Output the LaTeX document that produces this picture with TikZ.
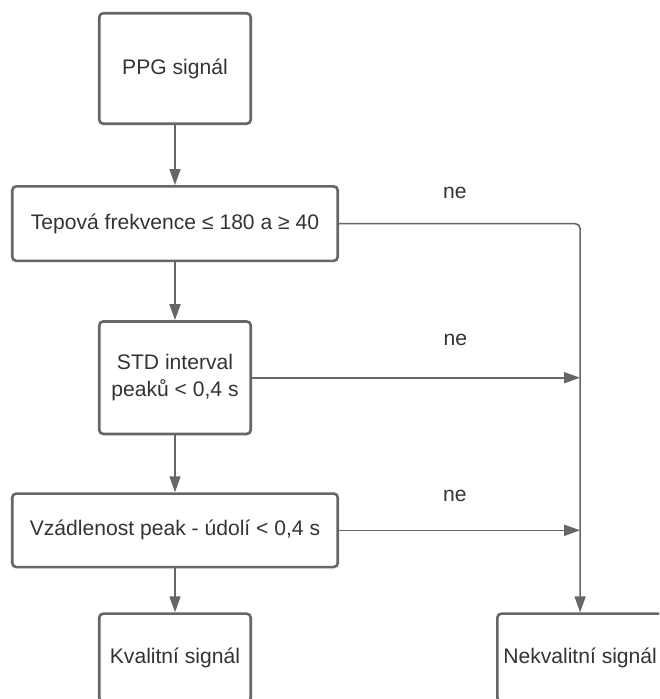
\documentclass[tikz,border=0pt]{standalone}
\usepackage{fontspec}
\setmainfont{Liberation Sans}
\usetikzlibrary{arrows.meta,positioning}
\definecolor{FlowLine}{HTML}{666666}
\definecolor{FlowText}{HTML}{333333}
\tikzset{
  flowbox/.style={draw=FlowLine, rounded corners=4pt, line width=2.6pt,
                  align=center, text=FlowText,
                  font=\fontsize{21.1}{27.5}\selectfont},
  widebox/.style={flowbox, minimum width=325.5pt, minimum height=74.5pt},
  tallbox/.style={flowbox, minimum width=151.5pt, minimum height=110.5pt},
  endbox/.style={flowbox, minimum height=88pt},
  arrow/.style={-{Triangle[length=16pt,width=11pt]}, line width=1.6pt, FlowLine},
  note/.style={text=FlowText, font=\fontsize{21.1}{27.5}\selectfont},
}

\begin{document}
\begin{tikzpicture}[x=1pt, y=1pt, node distance=60pt]
  \clip (0,0) rectangle (659,-699);

  \node[tallbox] (ppg) at (175,-68.5) {PPG signál};
  \node[widebox, below=60pt of ppg] (rate) {Tepová frekvence ≤ 180 a ≥ 40};
  \node[tallbox, minimum height=112.5pt, below=58pt of rate] (std) {STD interval\\peaků < 0,4 s};
  \node[widebox, minimum height=73.5pt, below=57pt of std] (dist) {Vzádlenost peak - údolí < 0,4 s};
  \node[endbox, minimum width=151.5pt, below=44pt of dist] (good) {Kvalitní signál};
  \node[endbox, minimum width=165.5pt, right=244pt of good] (bad) {Nekvalitní signál};

  \draw[arrow] (ppg)  -- (rate);
  \draw[arrow] (rate) -- (std);
  \draw[arrow] (std)  -- (dist);
  \draw[arrow] (dist) -- (good);

  % rejected branches into the right column
  \coordinate (stdjoin)  at (std.east -| bad.north);
  \coordinate (distjoin) at (dist.east -| bad.north);
  \draw[arrow, rounded corners=5pt] (rate.east) -| node[note, pos=0.24, above=21pt] {ne} (bad.north);
  \draw[arrow] (std.east)  -- node[note, pos=0.62, above=28pt] {ne} (stdjoin);
  \draw[arrow] (dist.east) -- node[note, pos=0.48, above=24.5pt] {ne} (distjoin);

\end{tikzpicture}
\end{document}
